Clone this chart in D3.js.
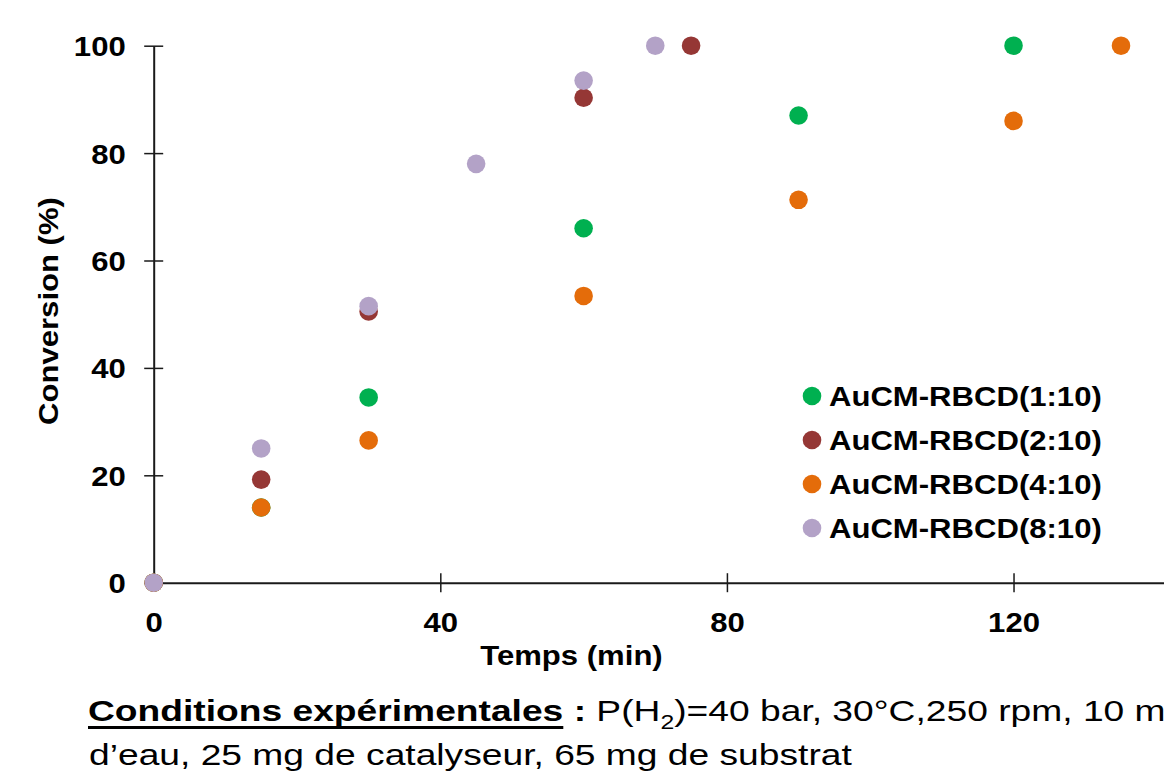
<!DOCTYPE html>
<html>
<head>
<meta charset="utf-8">
<script src="https://cdn.jsdelivr.net/npm/d3@7.9.0/dist/d3.min.js"></script>
<style>
  html, body { margin: 0; padding: 0; background: #fff; }
  svg { display: block; }
  text { font-family: "Liberation Sans", Arial, sans-serif; fill: #000; }
</style>
</head>
<body>
<svg id="chart" width="1164" height="774"></svg>
<script>
// ====== DATA ======

const seriesNames = ['AuCM-RBCD(1:10)', 'AuCM-RBCD(2:10)', 'AuCM-RBCD(4:10)', 'AuCM-RBCD(8:10)'];
const seriesColors = ['#00b050', '#953735', '#e46c0a', '#b3a2c7'];

// time (min) and conversion (%) per catalyst
const times1 = [0, 15, 30, 60, 90, 120];
const conv1 = [0, 14, 34.5, 66, 87, 100];

const times2 = [0, 15, 30, 60, 75];
const conv2 = [0, 19.2, 50.5, 90.3, 100];

const times4 = [0, 15, 30, 60, 90, 120, 135];
const conv4 = [0, 14, 26.5, 53.4, 71.3, 86, 100];

const times8 = [0, 15, 30, 45, 60, 70];
const conv8 = [0, 25, 51.5, 78, 93.5, 100];

const xTicks = [0, 40, 80, 120];
const yTicks = [0, 20, 40, 60, 80, 100];

// ====== SETUP ======

const svg = d3.select('#chart');
const sx = 1.11;      // the source text is drawn a bit wide
const noteSx = 1.24;

const x = d3.scaleLinear().domain([0, 141]).range([153.7, 1164]);
const y = d3.scaleLinear().domain([0, 100]).range([582.7, 45.7]);

const series = [
  { times: times1, conv: conv1 },
  { times: times2, conv: conv2 },
  { times: times4, conv: conv4 },
  { times: times8, conv: conv8 },
].map((s, i) => ({
  name: seriesNames[i],
  color: seriesColors[i],
  points: s.times.map((t, j) => ({ t, c: s.conv[j] })),
}));

// ====== AXES ======

const xAxis = svg.append('g')
  .attr('transform', `translate(0,${y(0)})`)
  .call(d3.axisBottom(x).tickValues(xTicks).tickSize(0).tickSizeOuter(0).tickFormat(d3.format('d')));

const yAxis = svg.append('g')
  .attr('transform', `translate(${x(0)},0)`)
  .call(d3.axisLeft(y).tickValues(yTicks).tickSize(0).tickSizeOuter(0).tickFormat(d3.format('d')));

[xAxis, yAxis].forEach((g) => {
  g.select('.domain').attr('stroke', '#1a1a1a').attr('stroke-width', 2);
  g.selectAll('.tick text')
    .attr('font-size', 28)
    .attr('font-weight', 'bold')
    .attr('font-family', '"Liberation Sans", Arial, sans-serif')
    .attr('fill', '#000')
    .attr('dy', null)
    .attr('transform', `scale(${sx},1)`);
});

xAxis.selectAll('.tick line')
  .attr('y1', -9.5).attr('y2', 9.5)
  .attr('stroke', '#1a1a1a').attr('stroke-width', 1.5)
  .filter((d) => d === 0).remove();
xAxis.selectAll('.tick text').attr('y', 49.3);

yAxis.selectAll('.tick line')
  .attr('x1', -9.5).attr('x2', 9.5)
  .attr('stroke', '#1a1a1a').attr('stroke-width', 1.5);
yAxis.selectAll('.tick text').attr('x', -28 / sx).attr('y', 10);

// axis titles
svg.append('text')
  .attr('transform', `translate(571.5,665) scale(${sx},1)`)
  .attr('text-anchor', 'middle')
  .attr('font-size', 28)
  .attr('font-weight', 'bold')
  .text('Temps (min)');

svg.append('text')
  .attr('transform', `translate(58,311) rotate(-90) scale(${sx},1)`)
  .attr('text-anchor', 'middle')
  .attr('font-size', 28)
  .attr('font-weight', 'bold')
  .text('Conversion (%)');

// ====== POINTS ======

svg.append('g')
  .selectAll('g')
  .data(series)
  .join('g')
  .attr('fill', (d) => d.color)
  .selectAll('circle')
  .data((d) => d.points)
  .join('circle')
  .attr('cx', (d) => x(d.t))
  .attr('cy', (d) => y(d.c))
  .attr('r', 9.3);

// ====== LEGEND ======

const legend = svg.append('g')
  .selectAll('g')
  .data(series)
  .join('g')
  .attr('transform', (d, i) => `translate(812,${396 + i * 44})`);

legend.append('circle')
  .attr('r', 9.3)
  .attr('fill', (d) => d.color);

legend.append('text')
  .attr('transform', `translate(17,10) scale(${sx},1)`)
  .attr('font-size', 28)
  .attr('font-weight', 'bold')
  .text((d) => d.name);

// ====== EXPERIMENTAL CONDITIONS NOTE ======

const note = svg.append('text')
  .attr('transform', `translate(88,721) scale(${noteSx},1)`)
  .attr('font-size', 30);

const head = note.append('tspan')
  .attr('font-weight', 'bold')
  .text('Conditions expérimentales');
note.append('tspan').attr('font-weight', 'bold').text(' : ');
note.append('tspan').text('P(H');
note.append('tspan').attr('font-size', 20).attr('dy', 8).text('2');
note.append('tspan').attr('dy', -8).text(')=40 bar, 30°C,250 rpm, 10 mL');

// underline under the bold heading
const headWidth = head.node().getComputedTextLength() * noteSx;
svg.append('rect')
  .attr('x', 88)
  .attr('y', 726)
  .attr('width', headWidth)
  .attr('height', 3)
  .attr('fill', '#000');

svg.append('text')
  .attr('transform', `translate(89,765) scale(${noteSx},1)`)
  .attr('font-size', 30)
  .text('d’eau, 25 mg de catalyseur, 65 mg de substrat');
</script>
</body>
</html>
